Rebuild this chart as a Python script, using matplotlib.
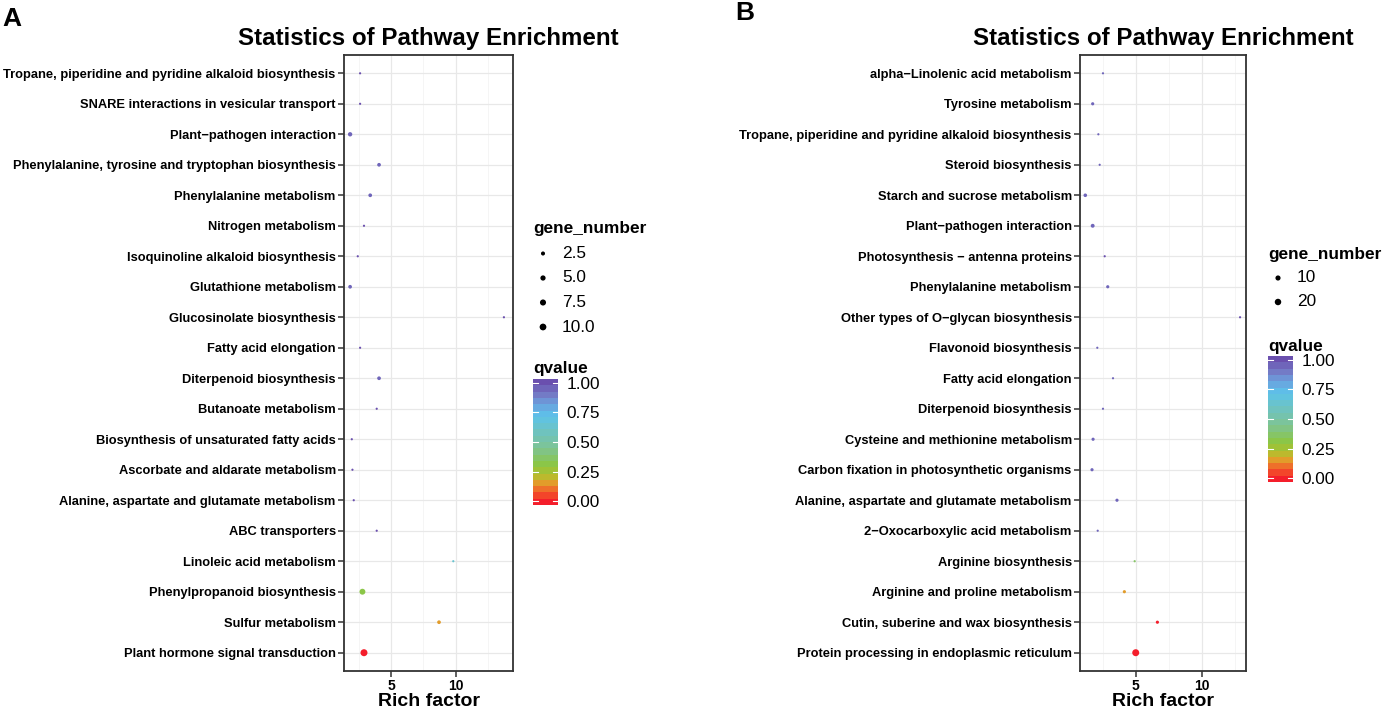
import matplotlib
matplotlib.use("Agg")
import matplotlib.pyplot as plt
import numpy as np
from matplotlib.colors import LinearSegmentedColormap, Normalize
from matplotlib.cm import ScalarMappable

plt.rcParams["font.family"] = ["Liberation Sans", "DejaVu Sans"]

W, H = 1382, 713

# panel A, listed top to bottom as in the figure
pathways_a = [
    "Tropane, piperidine and pyridine alkaloid biosynthesis",
    "SNARE interactions in vesicular transport",
    "Plant\u2212pathogen interaction",
    "Phenylalanine, tyrosine and tryptophan biosynthesis",
    "Phenylalanine metabolism",
    "Nitrogen metabolism",
    "Isoquinoline alkaloid biosynthesis",
    "Glutathione metabolism",
    "Glucosinolate biosynthesis",
    "Fatty acid elongation",
    "Diterpenoid biosynthesis",
    "Butanoate metabolism",
    "Biosynthesis of unsaturated fatty acids",
    "Ascorbate and aldarate metabolism",
    "Alanine, aspartate and glutamate metabolism",
    "ABC transporters",
    "Linoleic acid metabolism",
    "Phenylpropanoid biosynthesis",
    "Sulfur metabolism",
    "Plant hormone signal transduction",
]
rich_a = [2.62, 2.62, 1.85, 4.08, 3.40, 2.92, 2.44, 1.85, 13.7, 2.62,
          4.08, 3.90, 1.98, 2.03, 2.13, 3.90, 9.80, 2.80, 8.70, 2.92]
genes_a = [1, 1, 3, 2, 2, 1, 1, 2, 1, 1, 2, 1, 1, 1, 1, 1, 1, 7, 2, 11]
qval_a = [0.97, 0.97, 0.90, 0.90, 0.92, 0.96, 0.96, 0.93, 0.97, 0.97,
          0.90, 0.96, 0.96, 0.96, 0.96, 0.96, 0.63, 0.30, 0.15, 0.02]

# panel B
pathways_b = [
    "alpha\u2212Linolenic acid metabolism",
    "Tyrosine metabolism",
    "Tropane, piperidine and pyridine alkaloid biosynthesis",
    "Steroid biosynthesis",
    "Starch and sucrose metabolism",
    "Plant\u2212pathogen interaction",
    "Photosynthesis \u2212 antenna proteins",
    "Phenylalanine metabolism",
    "Other types of O\u2212glycan biosynthesis",
    "Flavonoid biosynthesis",
    "Fatty acid elongation",
    "Diterpenoid biosynthesis",
    "Cysteine and methionine metabolism",
    "Carbon fixation in photosynthetic organisms",
    "Alanine, aspartate and glutamate metabolism",
    "2\u2212Oxocarboxylic acid metabolism",
    "Arginine biosynthesis",
    "Arginine and proline metabolism",
    "Cutin, suberine and wax biosynthesis",
    "Protein processing in endoplasmic reticulum",
]
rich_b = [2.52, 1.74, 2.17, 2.27, 1.18, 1.74, 2.65, 2.88, 12.9, 2.09,
          3.28, 2.52, 1.77, 1.69, 3.58, 2.12, 4.92, 4.14, 6.64, 5.00]
genes_b = [1, 2, 1, 1, 3, 4, 1, 2, 1, 1, 1, 1, 2, 2, 2, 1, 1, 2, 2, 25]
qval_b = [0.93, 0.92, 0.94, 0.93, 0.90, 0.90, 0.95, 0.92, 0.97, 0.93,
          0.92, 0.93, 0.92, 0.94, 0.92, 0.93, 0.35, 0.15, 0.04, 0.02]

legend_a = [2.5, 5.0, 7.5, 10.0]
legend_b = [10, 20]
cbar_ticks = [0.0, 0.25, 0.5, 0.75, 1.0]

cmap = LinearSegmentedColormap.from_list("q", [
    (0.00, "#F41E2B"), (0.08, "#F2592A"), (0.15, "#E8982A"),
    (0.22, "#B5BE2E"), (0.30, "#8CC63F"), (0.45, "#7EC494"),
    (0.60, "#6CC3C5"), (0.72, "#5CC3EA"), (0.82, "#6C9FDD"),
    (0.90, "#7378C4"), (1.00, "#6A4FAE")], N=20)
norm = Normalize(0, 1)


def box(x0, y0, x1, y1):
    return [x0 / W, 1 - y1 / H, (x1 - x0) / W, (y1 - y0) / H]


def dot_size(g, gmin, gmax, dmin=2.2, dmax=7.0):
    g = np.asarray(g, dtype=float)
    d = dmin + np.sqrt(np.clip((g - gmin) / (gmax - gmin), 0, 1)) * (dmax - dmin)
    return (d * 72 / 100) ** 2


fig = plt.figure(figsize=(W / 100, H / 100), dpi=100)
over = fig.add_axes([0, 0, 1, 1], zorder=-1)
over.set_xlim(0, W)
over.set_ylim(H, 0)
over.axis("off")


def panel(rect, names, rich, genes, qv, xlim, gmin, gmax):
    ax = fig.add_axes(rect)
    n = len(names)
    y = np.arange(n, 0, -1)
    ax.scatter(rich, y, s=dot_size(genes, gmin, gmax), c=qv, cmap=cmap,
               norm=norm, linewidths=0, zorder=3)
    ax.set_xlim(*xlim)
    ax.set_ylim(0.4, n + 0.6)
    ax.set_yticks(y)
    ax.set_yticklabels(names, fontsize=9.25, fontweight="bold")
    ax.set_xticks([5, 10])
    ax.set_xticklabels(["5", "10"], fontsize=10, fontweight="bold")
    ax.set_xticks([2.5, 7.5, 12.5], minor=True)
    ax.grid(which="major", color="#E8E8E8", lw=0.9)
    ax.grid(which="minor", axis="x", color="#F2F2F2", lw=0.5)
    ax.set_axisbelow(True)
    ax.tick_params(which="major", length=4, width=1.1, color="#333333", pad=2)
    ax.tick_params(which="minor", length=0)
    for s in ax.spines.values():
        s.set_color("#333333")
        s.set_linewidth(1.3)
    ax.set_title("Statistics of Pathway Enrichment", fontsize=17.4,
                 fontweight="bold", pad=7)
    ax.set_xlabel("Rich factor", fontsize=14, fontweight="bold", labelpad=0)
    return ax


panel(box(344, 55, 513, 671), pathways_a, rich_a, genes_a, qval_a,
      (1.38, 14.4), 1, 11)
panel(box(1080, 55, 1246, 671), pathways_b, rich_b, genes_b, qval_b,
      (0.78, 13.35), 1, 25)

over.text(2, 19, "A", fontsize=19, fontweight="bold", va="center")
over.text(735, 13, "B", fontsize=19, fontweight="bold", va="center")


def legends(x0, ytitle, ystep, values, gmin, gmax, qtitle_y, bar_top, bar_bot):
    over.text(x0, ytitle, "gene_number", fontsize=12.4, fontweight="bold",
              va="center")
    ys = ytitle + ystep * np.arange(1, len(values) + 1)
    over.scatter(np.full(len(values), x0 + 10), ys,
                 s=dot_size(values, gmin, gmax), color="black", linewidths=0)
    for v, yy in zip(values, ys):
        over.text(x0 + 29, yy, f"{v:g}" if gmax > 12 else f"{v:.1f}",
                  fontsize=12.4, va="center")
    over.text(x0, qtitle_y, "qvalue", fontsize=12.4, fontweight="bold",
              va="center")
    cax = fig.add_axes(box(x0, bar_top, x0 + 25, bar_bot))
    cb = fig.colorbar(ScalarMappable(norm=Normalize(-0.03, 1.03), cmap=cmap),
                      cax=cax, ticks=cbar_ticks)
    cb.ax.set_yticklabels([f"{t:.2f}" for t in cbar_ticks], fontsize=12.4)
    cb.outline.set_visible(False)
    cb.ax.tick_params(length=0, pad=6)
    for t in cbar_ticks:
        cb.ax.plot([0, 0.2], [t, t], color="white", lw=0.8)
        cb.ax.plot([0.8, 1], [t, t], color="white", lw=0.8)


legends(533, 229, 24.5, legend_a, 1, 11, 368, 379, 505)
legends(1268, 254, 24, legend_b, 1, 25, 346, 356, 482)

fig.savefig("out.png", dpi=100)
